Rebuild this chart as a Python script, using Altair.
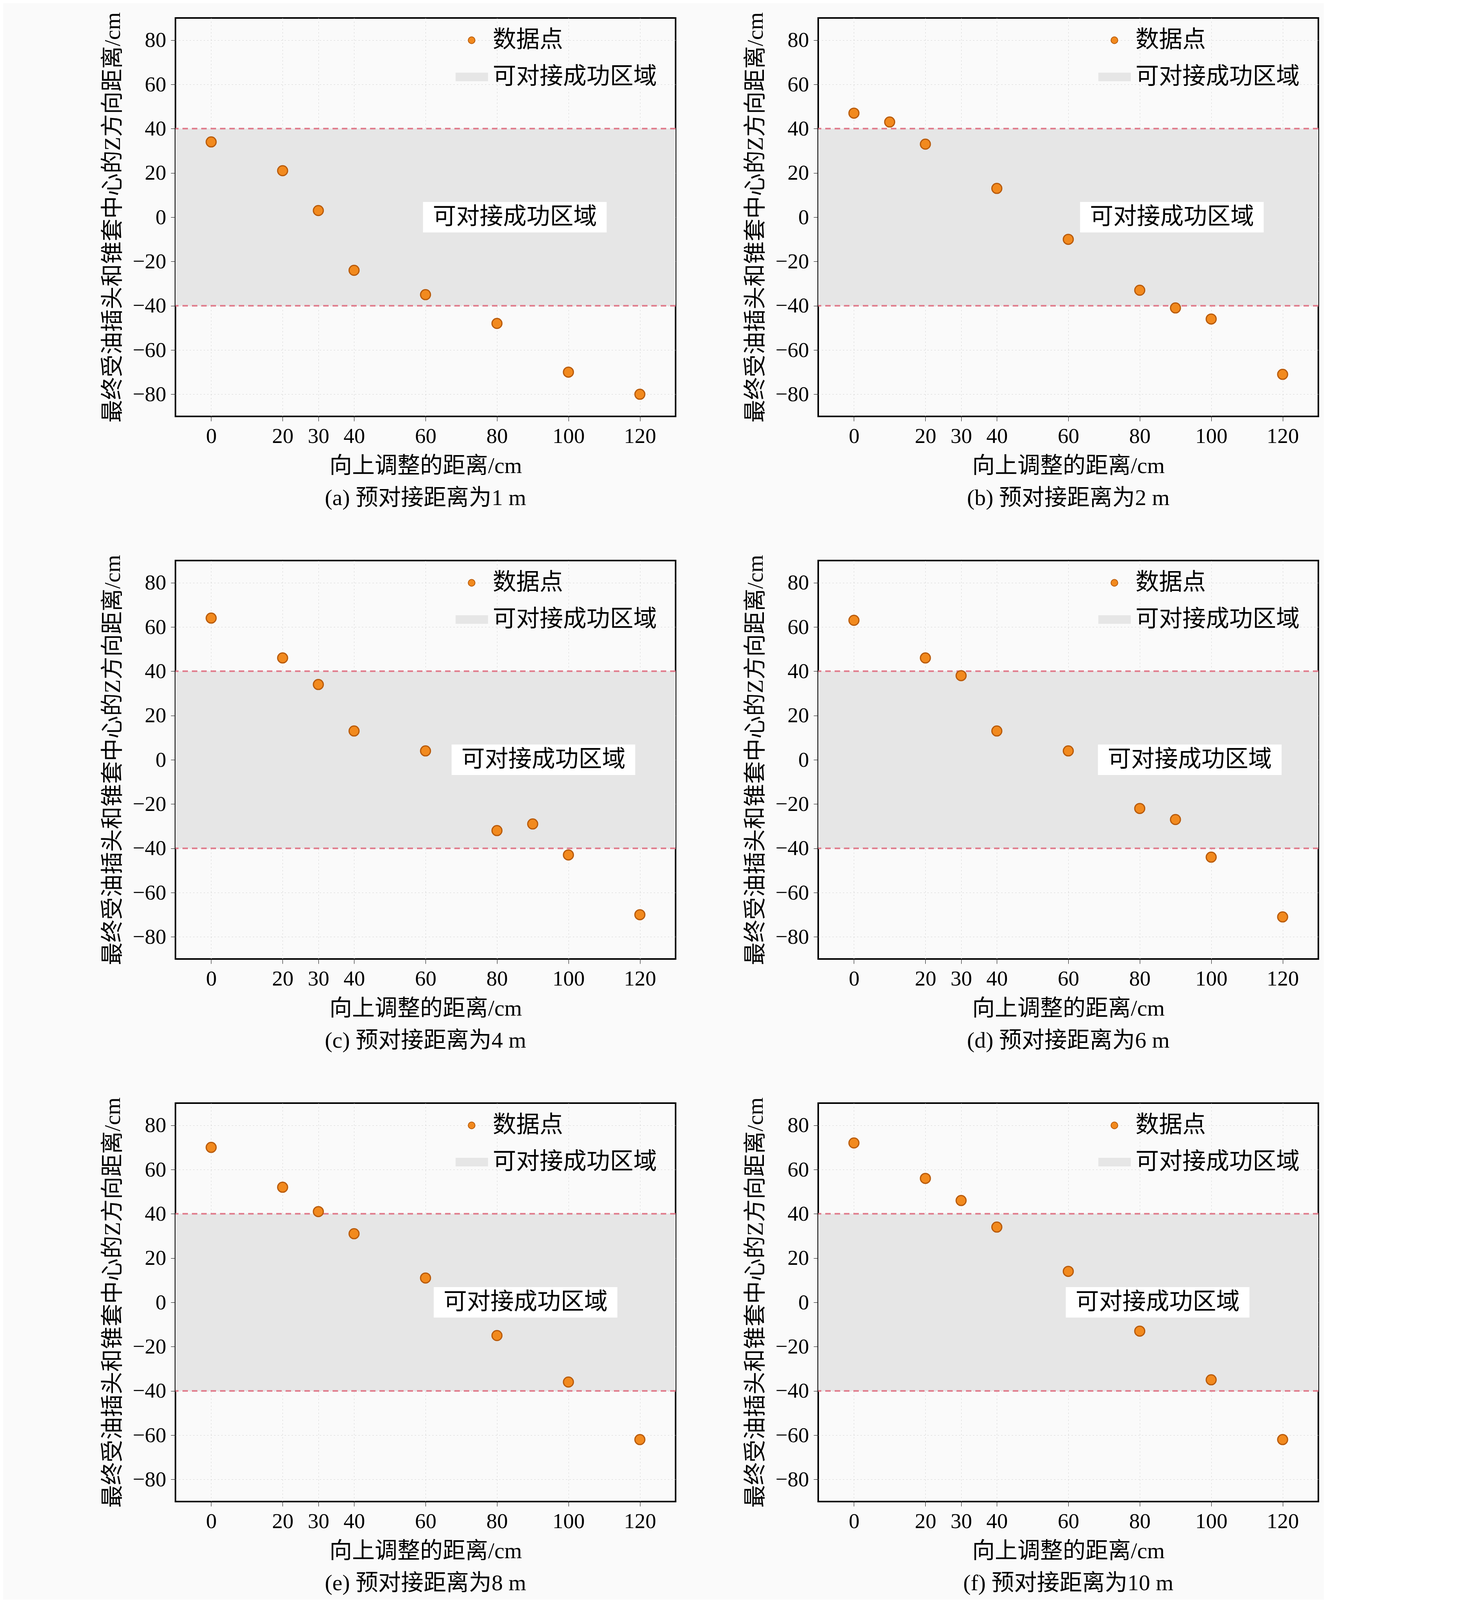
import altair as alt
import pandas as pd

FONT = "Liberation Serif, Noto Sans CJK SC"

captions = ["(a) 预对接距离为1 m", "(b) 预对接距离为2 m", "(c) 预对接距离为4 m",
            "(d) 预对接距离为6 m", "(e) 预对接距离为8 m", "(f) 预对接距离为10 m"]
xs = [
    [0, 20, 30, 40, 60, 80, 100, 120],
    [0, 10, 20, 40, 60, 80, 90, 100, 120],
    [0, 20, 30, 40, 60, 80, 90, 100, 120],
    [0, 20, 30, 40, 60, 80, 90, 100, 120],
    [0, 20, 30, 40, 60, 80, 100, 120],
    [0, 20, 30, 40, 60, 80, 100, 120],
]
ys = [
    [34, 21, 3, -24, -35, -48, -70, -80],
    [47, 43, 33, 13, -10, -33, -41, -46, -71],
    [64, 46, 34, 13, 4, -32, -29, -43, -70],
    [63, 46, 38, 13, 4, -22, -27, -44, -71],
    [70, 52, 41, 31, 11, -15, -36, -62],
    [72, 56, 46, 34, 14, -13, -35, -62],
]
label_x = [85, 89, 93, 94, 88, 85]
x_ticks = [0, 20, 30, 40, 60, 80, 100, 120]
y_ticks = [-80, -60, -40, -20, 0, 20, 40, 60, 80]
band_lo, band_hi = -40, 40

W, H = 1280, 1020
xsc = alt.Scale(domain=[-10, 130], nice=False, zero=False)
ysc = alt.Scale(domain=[-90, 90], nice=False, zero=False)


def panel(i):
    df = pd.DataFrame({"x": xs[i], "y": ys[i]})
    base = alt.Chart(df)
    axis_opts = dict(grid=True, gridDash=[3, 6], gridColor="#cccccc",
                     labelFontSize=55, titleFontSize=58, titlePadding=20,
                     labelPadding=12, tickSize=12, tickColor="black", domain=False)
    xax = alt.X("x:Q", scale=xsc, title="向上调整的距离/cm",
                axis=alt.Axis(values=x_ticks, **axis_opts))
    yax = alt.Y("y:Q", scale=ysc, title="最终受油插头和锥套中心的Z方向距离/cm",
                axis=alt.Axis(values=y_ticks, **axis_opts))
    band = alt.Chart(pd.DataFrame({"lo": [band_lo], "hi": [band_hi]})).mark_rect(
        color="#e6e6e6").encode(
        y=alt.Y("lo:Q", scale=ysc), y2="hi:Q", x=alt.value(0), x2=alt.value(W))
    rules = alt.Chart(pd.DataFrame({"y": [band_lo, band_hi]})).mark_rule(
        color="#e07a8a", strokeDash=[14, 10], strokeWidth=4).encode(
        y=alt.Y("y:Q", scale=ysc))
    pts = base.mark_point(filled=True, size=650, fill="#f28a1e", stroke="#b85a0a",
                          strokeWidth=3, opacity=1).encode(x=xax, y=yax)
    lab_df = pd.DataFrame({"x": [label_x[i]], "y": [0], "t": ["可对接成功区域"]})
    lab_bg = alt.Chart(lab_df).mark_rect(color="white", width=470, height=78).encode(
        x=alt.X("x:Q", scale=xsc), y=alt.Y("y:Q", scale=ysc))
    lab = alt.Chart(lab_df).mark_text(font=FONT, fontSize=60, color="black").encode(
        x=alt.X("x:Q", scale=xsc), y=alt.Y("y:Q", scale=ysc), text="t:N")
    leg_p = alt.Chart(pd.DataFrame({"a": [1]})).mark_point(
        filled=True, size=300, fill="#f28a1e", stroke="#b85a0a", opacity=1).encode(
        x=alt.value(758), y=alt.value(57))
    leg_r = alt.Chart(pd.DataFrame({"a": [1]})).mark_rect(color="#e6e6e6").encode(
        x=alt.value(717), x2=alt.value(800), y=alt.value(140), y2=alt.value(162))
    leg_t = alt.Chart(pd.DataFrame({"t": ["数据点", "可对接成功区域"], "yy": [57, 151]})).mark_text(
        font=FONT, fontSize=60, align="left", color="black").encode(
        x=alt.value(812), y=alt.Y("yy:Q", scale=None), text="t:N")
    return alt.layer(band, rules, pts, lab_bg, lab, leg_p, leg_r, leg_t).properties(
        width=W, height=H,
        title=alt.TitleParams(captions[i], orient="bottom", font=FONT, fontSize=58,
                              fontWeight="normal", offset=25, color="black"))


rows = [alt.hconcat(panel(2 * r), panel(2 * r + 1), spacing=170) for r in range(3)]
chart = alt.vconcat(*rows, spacing=110).properties(
    padding={"left": 250, "top": 20, "right": 10, "bottom": 10},
    background="#fafafa",
    config=alt.Config(
        view=alt.ViewConfig(stroke="black", strokeWidth=4),
        axis=alt.AxisConfig(labelFont=FONT, titleFont=FONT, titleFontWeight="normal",
                            labelColor="black", titleColor="black"),
    ),
)

chart.save("out.html", embed_options={"renderer": "svg", "actions": False})
